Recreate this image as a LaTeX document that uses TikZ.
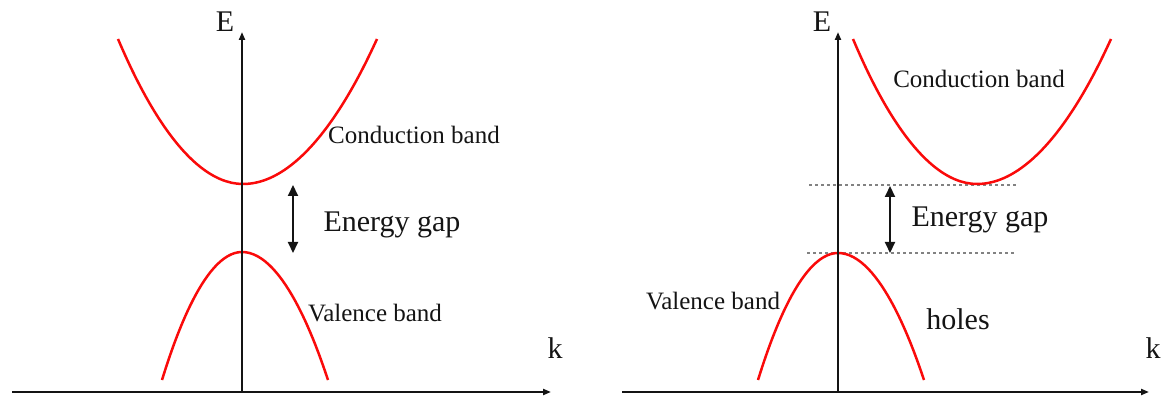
\documentclass[tikz,border=0pt]{standalone}
\usepackage{fontspec}
\setmainfont{Liberation Serif}
\usetikzlibrary{positioning, calc, arrows.meta}
\definecolor{bandred}{RGB}{250,10,10}
\definecolor{ink}{RGB}{20,20,20}
\definecolor{dashgray}{RGB}{130,130,130}
\tikzset{
  axis/.style={-{Triangle[length=8pt,width=6pt]},line width=2pt,draw=ink},
  band/.style={line width=2.5pt,draw=bandred},
  gaparr/.style={{Triangle[length=11pt,width=10pt]}-{Triangle[length=11pt,width=10pt]},
    line width=2pt,draw=ink},
  gapline/.style={draw=dashgray,dash pattern=on 3pt off 3pt,line width=1.2pt},
  lbl/.style={font=\fontsize{25}{28}\selectfont,anchor=base,inner sep=0pt,text=ink},
  biglbl/.style={font=\fontsize{30}{34}\selectfont,anchor=base,inner sep=0pt,text=ink},
}

\begin{document}
\begin{tikzpicture}[x=1pt,y=-1pt]
  \useasboundingbox (0,0) rectangle (1168,398);
  % left panel: direct gap
  \coordinate (lorig) at (242,392);
  \coordinate (ltop) at (242,32);
  \coordinate (lkstart) at (12,392);
  \coordinate (lkend) at (551,392);
  \draw[band] (118,39) parabola bend (243,184) (377,39);
  \draw[band] (162,380) parabola bend (242,252) (328,380);
  \draw[axis] (lkstart) -- (lkend);
  \draw[axis] (lorig) -- (ltop);
  \node[biglbl] (lE) at (225,32) {E};
  \node[biglbl] (lk) at (555,358) {k};
  \coordinate (lgtop) at (293,185);
  \coordinate (lgbot) at (293,253);
  \draw[gaparr] (lgtop) -- (lgbot);
  \node[biglbl] (lgap) at (392,232) {Energy gap};
  \node[lbl] (lcond) at (414,144) {Conduction band};
  \node[lbl] (lval) at (375,322) {Valence band};

  % right panel: indirect gap
  \coordinate (rorig) at (838,392);
  \coordinate (rtop) at (838,32);
  \coordinate (rkstart) at (622,392);
  \coordinate (rkend) at (1149,392);
  \coordinate (rcbl) at (809,185);
  \coordinate (rcbr) at (1017,185);
  \coordinate (rvbl) at (807,253);
  \coordinate (rvbr) at (1015,253);
  \draw[gapline] (rcbl) -- (rcbr);
  \draw[gapline] (rvbl) -- (rvbr);
  \draw[band] (853,39) parabola bend (977,184) (1111,39);
  \draw[band] (758,380) parabola bend (838,253) (924,380);
  \draw[axis] (rkstart) -- (rkend);
  \draw[axis] (rorig) -- (rtop);
  \node[biglbl] (rE) at (822,32) {E};
  \node[biglbl] (rk) at (1153,358) {k};
  \coordinate (rgtop) at (890,186);
  \coordinate (rgbot) at (890,253);
  \draw[gaparr] (rgtop) -- (rgbot);
  \node[biglbl] (rgap) at (980,227) {Energy gap};
  \node[lbl] (rcond) at (979,88) {Conduction band};
  \node[lbl] (rval) at (713,309) {Valence band};
  \node[biglbl] (rholes) at (958,330) {holes};
\end{tikzpicture}
\end{document}
